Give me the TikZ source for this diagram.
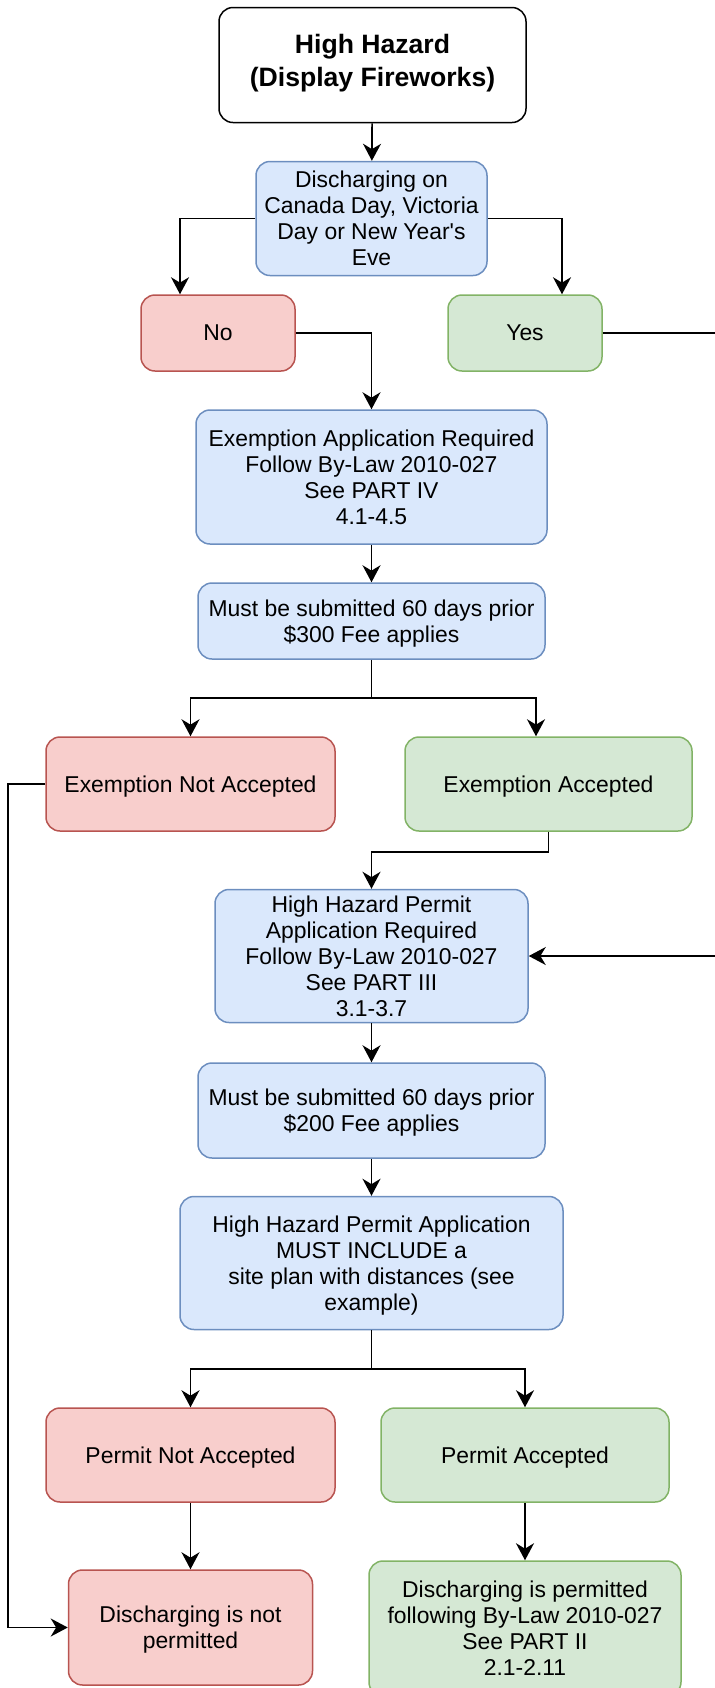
\documentclass[tikz,border=0pt]{standalone}
\usepackage{fontspec}
\setmainfont{Liberation Sans}
\usepackage{xcolor}
\usetikzlibrary{arrows.meta}
\definecolor{infofill}{HTML}{DAE8FC}
\definecolor{infoline}{HTML}{6C8EBF}
\definecolor{nofill}{HTML}{F8CECC}
\definecolor{noline}{HTML}{B85450}
\definecolor{yesfill}{HTML}{D5E8D4}
\definecolor{yesline}{HTML}{82B366}

\begin{document}
\begin{tikzpicture}[x=0.5pt, y=-0.5pt,
box/.style = {rectangle, rounded corners=7pt, line width=0.75pt, align=center, inner sep=0pt,
  text depth=-0.8pt, font=\fontsize{11.45}{13}\selectfont},
start/.style = {box, draw=black, fill=white, text depth=4.8pt, font=\bfseries\fontsize{13.3}{16.5}\selectfont},
info/.style = {box, draw=infoline, fill=infofill},
reject/.style = {box, draw=noline, fill=nofill},
accept/.style = {box, draw=yesline, fill=yesfill},
line/.style = {line width=0.85pt},
edge/.style = {line, -{Stealth[length=8.5pt, width=9pt, inset=2.7pt]}}]
\useasboundingbox (0,0) rectangle (714,1688);
\node[start, minimum width=153.5pt, minimum height=57.5pt] (HH) at (372.5,65) {High Hazard\\(Display Fireworks)};
\node[info, minimum width=115.5pt, minimum height=57pt] (Q) at (371.5,218.5) {Discharging on\\Canada Day, Victoria\\Day or New Year\textquotesingle s\\Eve};
\node[reject, minimum width=77pt, minimum height=38pt] (No) at (218,333) {No};
\node[accept, minimum width=77pt, minimum height=38pt] (Yes) at (525,333) {Yes};
\node[info, minimum width=175.5pt, minimum height=67pt] (ExApp) at (371.5,477) {Exemption Application Required\\Follow By-Law 2010-027\\See PART IV\\4.1-4.5};
\node[info, minimum width=173.5pt, minimum height=38pt] (ExDue) at (371.5,621) {Must be submitted 60 days prior\\\$300 Fee applies};
\node[reject, minimum width=144.5pt, minimum height=47pt] (ExNo) at (190.5,784) {Exemption Not Accepted};
\node[accept, minimum width=143.5pt, minimum height=47pt] (ExYes) at (548.5,784) {Exemption Accepted};
\node[info, minimum width=156.5pt, minimum height=66.5pt] (PmApp) at (371.5,956) {High Hazard Permit\\Application Required\\Follow By-Law 2010-027\\See PART III\\3.1-3.7};
\node[info, minimum width=173.5pt, minimum height=47.5pt] (PmDue) at (371.5,1110.5) {Must be submitted 60 days prior\\\$200 Fee applies};
\node[info, minimum width=191.5pt, minimum height=66.5pt] (PmPlan) at (371.5,1263) {High Hazard Permit Application\\MUST INCLUDE a\\site plan with distances (see\\example)};
\node[reject, minimum width=144.5pt, minimum height=47pt] (PmNo) at (190.5,1455) {Permit Not Accepted};
\node[accept, minimum width=144pt, minimum height=47pt] (PmYes) at (525,1455) {Permit Accepted};
\node[reject, minimum width=122pt, minimum height=57.5pt] (DisNo) at (190.5,1627.5) {Discharging is not\\permitted};
\node[accept, minimum width=156pt, minimum height=67.5pt] (DisYes) at (525,1628.5) {Discharging is permitted\\following By-Law 2010-027\\See PART II\\2.1-2.11};

\coordinate (yesout) at (730,333);
\coordinate (split1) at (371.5,698);
\coordinate (split2) at (371.5,1369);

\draw[edge] (HH) -- (Q);
\draw[edge] (Q.west) -| ([xshift=-19pt]No.north);
\draw[edge] (Q.east) -| ([xshift=18.5pt]Yes.north);
\draw[edge] (No.east) -| (ExApp.north);
\draw[edge] (Yes.east) -- (yesout) |- (PmApp.east);
\draw[edge] (ExApp) -- (ExDue);
\draw[line] (ExDue.south) -- (split1);
\draw[edge] (split1) -| (ExNo.north);
\draw[edge] (split1) -| ([xshift=-6.25pt]ExYes.north);
\draw[edge] (ExYes.south) -- ++(0,20) -| (PmApp.north);
\draw[edge] (ExNo.west) -- ++(-37,0) |- (DisNo.west);
\draw[edge] (PmApp) -- (PmDue);
\draw[edge] (PmDue) -- (PmPlan);
\draw[line] (PmPlan.south) -- (split2);
\draw[edge] (split2) -| (PmNo.north);
\draw[edge] (split2) -| (PmYes.north);
\draw[edge] (PmNo) -- (DisNo);
\draw[edge] (PmYes) -- (DisYes);
\end{tikzpicture}
\end{document}
